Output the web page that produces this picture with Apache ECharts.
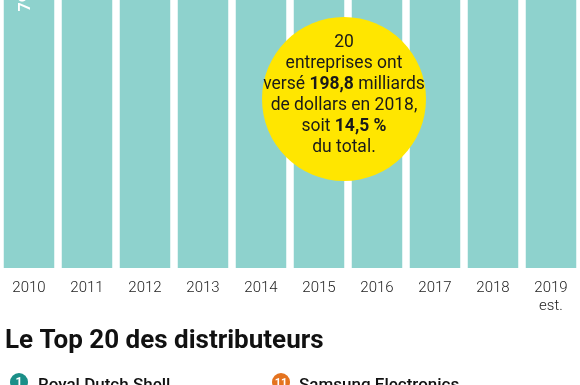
<!DOCTYPE html>
<html><head><meta charset="utf-8">
<script src="https://cdn.jsdelivr.net/npm/echarts@6/dist/echarts.min.js"></script>
<style>html,body{margin:0;padding:0;background:#fff}#c{width:580px;height:385px}</style>
</head><body><div id="c"></div>
<script>
// Data (billions USD of dividends; all bars run beyond the cropped top of the picture)
const years = ['2010','2011','2012','2013','2014','2015','2016','2017','2018','2019\nest.'];
const dividends = [796, 980, 1030, 1030, 1170, 1160, 1160, 1250, 1370, 1430];
const firstLabel = '796';
const title = 'Le Top 20 des distributeurs';
const top1 = ['1', 'Royal Dutch Shell'];
const top11 = ['11', 'Samsung Electronics'];

const chart = echarts.init(document.getElementById('c'));
const font = 'Roboto, "Open Sans", sans-serif';
const barData = dividends.map((v, i) => i === 0 ? {
  value: v,
  label: {show: true, position: 'insideTop', rotate: 90, formatter: firstLabel,
    color: '#fff', fontSize: 16, fontWeight: 'bold', fontFamily: font,
    align: 'right', verticalAlign: 'middle', distance: 0, offset: [16, -3]}
} : v);

chart.setOption({
  animation: false,
  grid: {left: -0.5, right: -1.5, top: 0, bottom: 117, containLabel: false},
  xAxis: {type: 'category', data: years,
    axisLine: {show: false}, axisTick: {show: false},
    axisLabel: {color: '#222', fontSize: 15, fontWeight: 300, fontFamily: font, margin: 11, lineHeight: 18, interval: 0}},
  yAxis: {type: 'value', min: 0, max: 760, show: false, splitLine: {show: false}},
  series: [{type: 'bar', data: barData, barWidth: 50.5, itemStyle: {color: '#8ed2cd'}, clip: true}],
  graphic: [
    {type: 'circle', shape: {cx: 344, cy: 99, r: 82}, style: {fill: '#ffe600'}, z: 10},
    {type: 'text', x: 344, y: 95, z: 11, style: {
      text: '20\nentreprises ont\nversé {b|198,8} milliards\nde dollars en 2018,\nsoit {b|14,5 %}\ndu total.',
      align: 'center', verticalAlign: 'middle', fill: '#1a1a1a', fontSize: 17.5, lineHeight: 21,
      fontFamily: font,
      rich: {b: {fontWeight: 'bold', fontSize: 17.5, fontFamily: font, fill: '#1a1a1a', lineHeight: 21}}
    }},
    {type: 'text', x: 5, y: 341, style: {text: title, fontSize: 26, fontWeight: 'bold', fontFamily: font,
      fill: '#111', verticalAlign: 'middle'}},
    {type: 'circle', shape: {cx: 19, cy: 382, r: 9}, style: {fill: '#1a8f88'}},
    {type: 'text', x: 19, y: 383, style: {text: top1[0], fontSize: 12, fontWeight: 'bold', fontFamily: font,
      fill: '#fff', align: 'center', verticalAlign: 'middle'}},
    {type: 'text', x: 38, y: 386, style: {text: top1[1], fontSize: 17, fontWeight: 500, fontFamily: font,
      fill: '#111', verticalAlign: 'middle'}},
    {type: 'circle', shape: {cx: 281, cy: 382, r: 9}, style: {fill: '#e4731f'}},
    {type: 'text', x: 281, y: 383, style: {text: top11[0], fontSize: 11, fontWeight: 'bold', fontFamily: font,
      fill: '#fff', align: 'center', verticalAlign: 'middle'}},
    {type: 'text', x: 299, y: 386, style: {text: top11[1], fontSize: 17, fontWeight: 500, fontFamily: font,
      fill: '#111', verticalAlign: 'middle'}}
  ]
});
</script></body></html>
